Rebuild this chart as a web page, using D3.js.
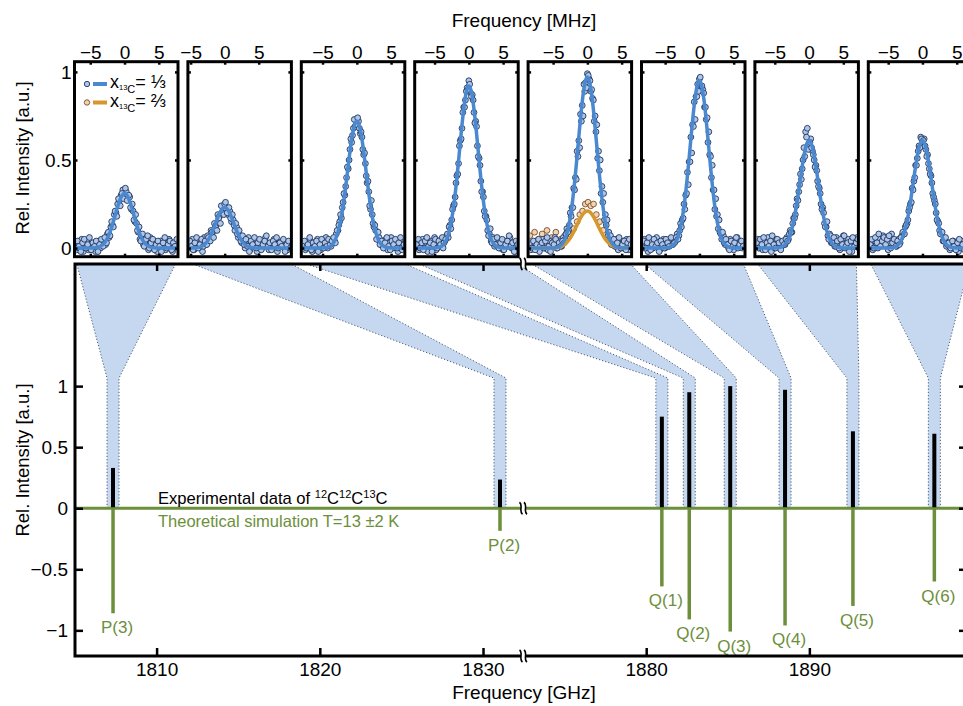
<!DOCTYPE html>
<html>
<head>
<meta charset="utf-8">
<title>12C12C13C spectrum</title>
<script src="https://cdn.jsdelivr.net/npm/d3@7"></script>
<style>
  body { margin: 0; background: #fff; }
  svg { font-family: "Liberation Sans", Arial, sans-serif; }
</style>
</head>
<body>
<div id="chart"></div>
<script>
// ---- data ----
// transitions (bottom panel)
const lineLabels   = ["P(3)", "P(2)", "Q(1)", "Q(2)", "Q(3)", "Q(4)", "Q(5)", "Q(6)"];
const lineFreqGHz  = [1807.33, 1831.04, 1880.96, 1882.64, 1885.15, 1888.51, 1892.67, 1897.66];
const expIntensity = [0.33, 0.235, 0.75, 0.95, 1.0, 0.97, 0.63, 0.61];
const simIntensity = [-0.86, -0.185, -0.64, -0.91, -1.01, -0.96, -0.80, -0.60];

const gTicks = [1810, 1820, 1830, 1880, 1890];
const intTicksBottom = [-1, -0.5, 0, 0.5, 1];
const mhzTicks = [-5, 0, 5];
const intTicksInset = [0, 0.5, 1];

// insets: MHz window of every scan
const insetRangeMHz = [[-7.3, 7.8], [-5.4, 9.8], [-8.1, 7.0], [-7.9, 7.2],
                       [-8.65, 6.45], [-8.45, 6.65], [-7.9, 7.2], [-7.9, 7.2]];
const scanStartMHz = [-7.25, -5.25, -7.75, -7.75, -8.5, -8.5, -7.75, -7.75];
const scanStepMHz = 0.25;
// first sweep, starts at scanStartMHz
const scanValues = [
  [0.02,-0.01,0.03,0.00,0.05,-0.02,0.01,0.04,-0.01,0.02,0.00,0.03,-0.02,0.01,0.04,0.00,0.02,
   0.05,0.02,0.08,0.06,0.12,0.13,0.19,0.20,0.25,0.27,0.30,0.33,0.29,0.32,0.28,0.29,0.22,0.21,0.15,0.14,0.09,0.05,0.07,0.02,0.04,
   0.01,-0.01,0.06,0.02,0.00,0.03,-0.02,0.01,0.04,0.00,0.02,-0.01,0.03,0.05,0.01,-0.02,0.02,0.00,0.03],
  [0.03,0.00,0.05,-0.01,0.02,0.04,0.01,0.03,-0.02,
   0.06,0.02,0.07,0.05,0.10,0.09,0.14,0.13,0.19,0.18,0.24,0.21,0.25,0.22,0.19,0.21,0.15,0.16,0.10,0.12,0.06,0.07,0.03,0.05,
   0.00,0.02,0.06,-0.01,0.03,0.01,0.05,-0.02,0.02,0.04,0.00,0.03,0.06,0.01,-0.01,0.03,0.00,0.05,0.02,-0.02,0.03,0.01,0.04,0.00,0.02,-0.01,0.03,0.01],
  [0.02,-0.01,0.03,0.01,0.04,-0.02,0.02,0.00,0.05,0.01,-0.01,0.03,0.02,0.06,0.00,
   0.03,0.01,0.05,0.04,0.08,0.10,0.15,0.17,0.26,0.30,0.40,0.45,0.56,0.60,0.68,0.69,0.70,0.72,0.65,0.63,0.53,0.48,0.37,0.32,0.22,0.19,0.12,0.10,0.05,0.06,
   0.02,0.04,0.01,0.05,-0.01,0.03,0.06,0.00,0.02,0.04,-0.02,0.01,0.03,0.05,0.00,0.02],
  [0.01,0.04,-0.01,0.02,0.05,0.00,0.03,-0.02,0.02,0.04,0.01,0.06,-0.01,0.03,0.02,
   0.05,0.00,0.04,0.07,0.06,0.13,0.16,0.24,0.29,0.41,0.48,0.61,0.68,0.80,0.84,0.91,0.95,0.88,0.87,0.77,0.72,0.58,0.51,0.38,0.32,0.21,0.18,0.10,0.08,0.04,0.06,
   0.01,0.03,0.05,0.00,0.02,-0.01,0.04,0.01,0.03,0.06,0.00,0.02,-0.02,0.03,0.01],
  [0.02,-0.01,0.03,0.00,0.04,0.01,-0.02,0.03,0.05,0.00,0.02,-0.01,0.04,0.01,0.03,0.06,0.00,0.02,
   0.04,0.01,0.06,0.05,0.11,0.10,0.20,0.23,0.34,0.40,0.55,0.61,0.76,0.81,0.93,0.94,0.99,0.96,0.89,0.85,0.72,0.66,0.51,0.44,0.31,0.26,0.16,0.13,0.07,0.06,0.02,0.04,
   0.01,0.05,-0.01,0.03,0.00,0.04,0.02,0.05,-0.01,0.03,0.01],
  [0.03,0.00,0.05,0.01,-0.02,0.02,0.04,0.00,0.03,0.06,0.01,-0.01,0.02,0.05,0.00,0.03,0.01,0.04,
   0.02,0.05,0.04,0.08,0.07,0.14,0.16,0.25,0.30,0.43,0.49,0.63,0.70,0.83,0.86,0.93,0.96,0.91,0.90,0.80,0.73,0.60,0.53,0.40,0.33,0.22,0.18,0.11,0.09,0.05,0.07,0.02,0.04,
   0.00,0.05,0.02,-0.01,0.03,0.06,0.01,0.03,0.00,0.02],
  [0.02,0.05,0.00,0.03,-0.01,0.04,0.01,0.06,0.02,-0.02,0.03,0.00,0.05,0.02,0.04,0.01,
   0.03,0.02,0.06,0.05,0.10,0.09,0.17,0.19,0.28,0.32,0.42,0.45,0.57,0.66,0.68,0.58,0.62,0.55,0.50,0.47,0.38,0.34,0.25,0.23,0.14,0.12,0.07,0.08,0.03,0.05,
   0.01,0.06,0.02,-0.01,0.04,0.07,0.00,0.03,0.05,0.01,-0.02,0.04,0.02,0.06,0.00],
  [0.01,0.03,-0.01,0.04,0.02,0.00,0.05,0.03,0.07,0.02,0.06,-0.01,0.03,0.08,0.02,0.04,
   0.01,0.05,0.03,0.07,0.08,0.12,0.14,0.21,0.25,0.34,0.38,0.47,0.51,0.58,0.63,0.60,0.62,0.56,0.53,0.45,0.41,0.31,0.27,0.20,0.15,0.10,0.08,0.04,0.05,
   0.01,0.03,-0.01,0.02,0.04,0.00,0.03,-0.02,0.01,0.04,0.02,0.00,0.03,0.01,-0.01,0.02]
];
// second sweep, shifted by half a step
const scanOffsetB = 0.125;
const scanValuesB = [
  [0.00,0.04,0.01,-0.02,0.03,0.05,0.00,0.02,0.06,-0.01,0.03,0.01,0.04,-0.02,0.02,0.05,
   0.01,0.06,0.03,0.09,0.07,0.15,0.12,0.21,0.18,0.28,0.24,0.31,0.28,0.34,0.27,0.30,0.23,0.25,0.16,0.19,0.10,0.12,0.04,0.08,0.01,0.05,
   0.07,0.00,0.03,0.05,-0.01,0.02,0.04,0.01,-0.02,0.03,0.06,0.00,0.02,0.04,-0.01,0.03,0.01,0.05],
  [0.04,0.01,-0.01,0.03,0.06,0.00,0.02,0.05,
   0.01,0.04,0.02,0.06,0.04,0.09,0.06,0.12,0.10,0.17,0.14,0.20,0.19,0.26,0.20,0.23,0.17,0.19,0.13,0.14,0.08,0.10,0.04,0.07,0.02,0.05,
   0.01,-0.02,0.04,0.02,0.06,0.00,0.03,0.05,-0.01,0.02,0.04,0.07,0.01,0.03,-0.01,0.04,0.02,0.06,0.00,0.03,0.01,0.05,-0.02,0.02,0.04,0.00],
  [0.04,0.00,0.02,0.06,-0.01,0.03,0.01,0.04,-0.02,0.02,0.05,0.00,0.03,0.01,0.05,0.02,
   0.04,0.06,0.03,0.10,0.13,0.19,0.23,0.31,0.35,0.46,0.50,0.62,0.64,0.73,0.70,0.74,0.68,0.66,0.56,0.54,0.41,0.38,0.24,0.27,0.14,0.13,0.05,0.09,0.02,0.04,
   0.00,0.03,0.06,0.01,-0.01,0.04,0.02,0.05,0.00,0.03,0.06,-0.01,0.02,0.04],
  [0.02,0.05,0.00,0.03,-0.01,0.04,0.06,0.01,0.03,-0.02,0.02,0.05,0.00,0.04,0.02,0.06,
   0.03,0.05,0.08,0.12,0.11,0.22,0.25,0.37,0.42,0.58,0.62,0.77,0.80,0.89,0.90,0.93,0.86,0.84,0.71,0.69,0.52,0.47,0.32,0.29,0.18,0.16,0.07,0.11,0.03,0.05,
   0.02,0.06,0.00,0.03,0.05,-0.01,0.02,0.04,0.07,0.01,0.03,-0.02,0.04,0.02],
  [0.03,0.00,0.04,-0.01,0.02,0.05,0.01,0.03,0.00,0.04,0.06,0.01,-0.02,0.03,0.02,0.05,0.00,0.03,0.01,
   0.04,0.03,0.08,0.09,0.13,0.18,0.23,0.33,0.39,0.52,0.57,0.72,0.75,0.89,0.91,0.98,0.95,0.90,0.84,0.75,0.70,0.55,0.50,0.35,0.31,0.19,0.16,0.09,0.07,0.03,
   0.05,0.01,0.03,0.06,0.00,0.02,0.04,-0.01,0.03,0.05,0.02],
  [0.01,0.04,0.00,0.03,0.06,-0.01,0.02,0.05,0.01,0.03,-0.02,0.04,0.02,0.00,0.05,0.03,0.01,0.06,0.02,
   0.03,0.06,0.05,0.10,0.12,0.17,0.22,0.31,0.36,0.49,0.54,0.69,0.73,0.86,0.89,0.97,0.92,0.88,0.80,0.74,0.66,0.52,0.47,0.33,0.28,0.19,0.16,0.08,0.09,0.03,
   0.05,0.02,-0.01,0.04,0.01,0.03,0.06,0.00,0.02,0.04,0.01],
  [0.03,0.00,0.05,0.02,0.06,-0.01,0.03,0.01,0.04,0.07,0.02,0.00,0.05,0.03,-0.01,0.04,
   0.02,0.05,0.04,0.08,0.09,0.14,0.17,0.24,0.27,0.36,0.39,0.50,0.52,0.63,0.56,0.60,0.57,0.53,0.46,0.44,0.35,0.31,0.22,0.20,0.12,0.15,0.05,0.07,0.03,0.06,
   0.01,0.04,0.00,0.05,0.02,0.07,0.01,0.03,-0.02,0.04,0.06,0.01,0.03,0.05],
  [0.02,0.05,0.00,0.06,0.03,0.08,0.01,0.04,0.06,0.02,0.05,0.07,0.00,0.03,0.05,0.01,
   0.04,0.02,0.06,0.09,0.08,0.13,0.16,0.23,0.26,0.33,0.40,0.47,0.55,0.57,0.62,0.61,0.58,0.52,0.48,0.42,0.37,0.29,0.25,0.16,0.14,0.08,0.09,0.04,0.06,0.02,
   0.03,0.00,0.04,0.01,-0.01,0.03,0.05,0.00,0.02,-0.01,0.04,0.01,0.03,0.00]
];
// gaussian fits (x13C = 1/3)
const fitAmp = [0.31, 0.23, 0.72, 0.92, 0.97, 0.95, 0.61, 0.61];
const fitSigmaMHz = 1.35;

// x13C = 2/3 scan, only for Q(3) (inset 5)
const enrichedPanel = 4;
const enrichedMHz = [-8.4, -7.7, -7.1, -6.6, -5.9, -5.2, -4.6, -3.9, -3.3, -2.6, -2.0, -1.5,
                     -1.1, -0.7, -0.3, 0.1, 0.5, 0.9, 1.3, 1.8, 2.3, 2.9, 3.4];
const enrichedValues = [0.07, 0.09, 0.05, 0.08, 0.10, 0.06, 0.09, 0.05, 0.07, 0.08, 0.11, 0.15,
                        0.19, 0.21, 0.25, 0.26, 0.24, 0.25, 0.19, 0.15, 0.10, 0.06, 0.04];
const enrichedAmp = 0.21;
const enrichedSigmaMHz = 1.55;

// ---- colours ----
const blueLine = "#4a89cf", blueFill = "#aec6e7", blueEdge = "#1f3461";
const orangeLine = "#d6982c", orangeFill = "#f1d3b3", orangeEdge = "#7a4e2a";
const green = "#6c8f3b", bandFill = "#c6d8f0", dotColor = "#4c5b78";

const W = 963, H = 706;
const svg = d3.select("#chart").append("svg").attr("width", W).attr("height", H);

// ---- bottom panel scales ----
const bLeft = 75, bRight = 966, bTop = 264, bBottom = 656, xBreak = 523;
const x = d3.scaleLinear()
  .domain([1805, 1832.45, 1872.45, 1899.6])
  .range([bLeft, xBreak, xBreak, bRight]);
const y = d3.scaleLinear().domain([-1.21, 2]).range([bBottom, bTop]);

// ---- inset layout ----
const iTop = 61.7, iBottom = 256.7, iWidth = 103.5, iStep = 113.4, iLeft0 = 74.5;
const yi = d3.scaleLinear().domain([-0.049, 1.058]).range([iBottom, iTop]);
const insetX = insetRangeMHz.map((r, i) =>
  d3.scaleLinear().domain(r).range([iLeft0 + i * iStep, iLeft0 + i * iStep + iWidth]));

// ---- fans connecting insets and lines ----
const half = 6, knee = y(1.066);
const fans = svg.append("g");
lineFreqGHz.forEach((f, i) => {
  const xc = x(f), x0 = iLeft0 + i * iStep + 2, x1 = iLeft0 + i * iStep + iWidth - 2;
  const pts = [[xc - half, y(0)], [xc - half, knee], [x0, bTop - 1], [x1, bTop - 1], [xc + half, knee], [xc + half, y(0)]];
  fans.append("path").attr("d", d3.line()(pts) + "Z").attr("fill", bandFill);
  [[pts[0], pts[1], pts[2]], [pts[5], pts[4], pts[3]]].forEach(p => {
    fans.append("path").attr("d", d3.line()(p)).attr("fill", "none")
      .attr("stroke", dotColor).attr("stroke-width", 1).attr("stroke-dasharray", "1.2,2");
  });
});

// ---- experimental / simulated lines ----
svg.append("line").attr("x1", bLeft).attr("x2", bRight).attr("y1", y(0)).attr("y2", y(0))
  .attr("stroke", green).attr("stroke-width", 3);
svg.append("g").selectAll("line").data(lineFreqGHz).join("line")
  .attr("x1", d => x(d)).attr("x2", d => x(d))
  .attr("y1", y(0)).attr("y2", (d, i) => y(simIntensity[i]))
  .attr("stroke", green).attr("stroke-width", 3.5);
svg.append("g").selectAll("line").data(lineFreqGHz).join("line")
  .attr("x1", d => x(d)).attr("x2", d => x(d))
  .attr("y1", y(0) - 1).attr("y2", (d, i) => y(expIntensity[i]))
  .attr("stroke", "#000").attr("stroke-width", 4);
svg.append("g").selectAll("text").data(lineLabels).join("text")
  .attr("x", (d, i) => x(lineFreqGHz[i]) + 4)
  .attr("y", (d, i) => y(simIntensity[i]) + 20)
  .attr("text-anchor", "middle").attr("font-size", 17).attr("fill", green)
  .text(d => d);

const t1 = svg.append("text").attr("x", 158).attr("y", 504).attr("font-size", 16.6).attr("fill", "#000");
t1.append("tspan").text("Experimental data of ");
[["12", "C"], ["12", "C"], ["13", "C"]].forEach(([m, e]) => {
  t1.append("tspan").attr("font-size", 11).attr("dy", -6).text(m);
  t1.append("tspan").attr("dy", 6).text(e);
});
svg.append("text").attr("x", 158).attr("y", 527).attr("font-size", 16.5).attr("fill", green)
  .text("Theoretical simulation T=13 \u00b12 K");

// ---- bottom frame and axes ----
const frame = svg.append("g").attr("stroke", "#000").attr("stroke-width", 3).attr("fill", "none");
frame.append("path").attr("d", `M${bRight},${bTop}H${bLeft}V${bBottom}H${bRight}`).attr("stroke-linecap", "square");

function styleAxis(g) {
  g.select(".domain").remove();
  g.selectAll(".tick line").attr("stroke", "#000").attr("stroke-width", 2.5);
  g.selectAll(".tick text").attr("fill", "#000");
}
const fmt = d3.format("~g");
svg.append("g").attr("transform", `translate(0,${bBottom})`)
  .call(d3.axisBottom(x).tickValues(gTicks).tickSize(-8).tickPadding(7).tickFormat(fmt))
  .call(styleAxis).attr("font-size", 19).attr("font-family", null);
svg.append("g").attr("transform", `translate(0,${bTop})`)
  .call(d3.axisTop(x).tickValues(gTicks).tickSize(-7).tickFormat(""))
  .call(styleAxis);
svg.append("g").attr("transform", `translate(${bLeft},0)`)
  .call(d3.axisLeft(y).tickValues(intTicksBottom).tickSize(-8).tickPadding(7).tickFormat(fmt))
  .call(styleAxis).attr("font-size", 19).attr("font-family", null);
svg.append("g").attr("transform", `translate(${bRight},0)`)
  .call(d3.axisRight(y).tickValues(intTicksBottom).tickSize(-7).tickFormat(""))
  .call(styleAxis);

// axis breaks
[bTop, y(0), bBottom].forEach(yy => {
  svg.append("rect").attr("x", xBreak - 2).attr("y", yy - 2.5).attr("width", 4.5).attr("height", 5).attr("fill", "#fff");
  [xBreak - 2, xBreak + 2.5].forEach(xo => {
    svg.append("path")
      .attr("d", `M${xo - 1.5},${yy - 6}C${xo + 2.5},${yy - 3} ${xo - 2.5},${yy + 3} ${xo + 1.5},${yy + 6}`)
      .attr("fill", "none").attr("stroke", "#000").attr("stroke-width", 1.6);
  });
});

// ---- insets ----
const defs = svg.append("defs");
const gauss = (a, s) => v => a * Math.exp(-v * v / (2 * s * s));
function scatter(plot, xs, pts, fill, edge) {
  plot.append("g").selectAll("circle").data(pts).join("circle")
    .attr("cx", d => xs(d[0])).attr("cy", d => yi(d[1])).attr("r", 2.9)
    .attr("fill", fill).attr("stroke", edge).attr("stroke-width", 0.9);
}

insetX.forEach((xs, i) => {
  const [l, r] = xs.range();
  const g = svg.append("g");
  defs.append("clipPath").attr("id", "clip" + i).append("rect")
    .attr("x", l + 1.5).attr("y", iTop + 1.5).attr("width", r - l - 3).attr("height", iBottom - iTop - 3);
  const plot = g.append("g").attr("clip-path", `url(#clip${i})`);
  const grid = d3.range(xs.domain()[0], xs.domain()[1] + 0.05, 0.05);

  if (i === enrichedPanel) {
    scatter(plot, xs, enrichedMHz.map((m, k) => [m, enrichedValues[k]]), orangeFill, orangeEdge);
  }
  const ptsA = scanValues[i].map((v, k) => [scanStartMHz[i] + k * scanStepMHz, v]);
  const ptsB = scanValuesB[i].map((v, k) => [scanStartMHz[i] + scanOffsetB + k * scanStepMHz, v]);
  scatter(plot, xs, ptsA.concat(ptsB), blueFill, blueEdge);

  if (i === enrichedPanel) {
    const fo = gauss(enrichedAmp, enrichedSigmaMHz);
    plot.append("path").attr("d", d3.line().x(v => xs(v)).y(v => yi(fo(v)))(grid))
      .attr("fill", "none").attr("stroke", orangeLine).attr("stroke-width", 3.5);
  }
  const fb = gauss(fitAmp[i], fitSigmaMHz);
  plot.append("path").attr("d", d3.line().x(v => xs(v)).y(v => yi(fb(v)))(grid))
    .attr("fill", "none").attr("stroke", blueLine).attr("stroke-width", 3.5);

  g.append("rect").attr("x", l).attr("y", iTop).attr("width", r - l).attr("height", iBottom - iTop)
    .attr("fill", "none").attr("stroke", "#000").attr("stroke-width", 3);

  g.append("g").attr("transform", `translate(0,${iTop})`)
    .call(d3.axisTop(xs).tickValues(mhzTicks).tickSize(-3).tickPadding(3).tickFormat(fmt))
    .call(styleAxis).attr("font-size", 19).attr("font-family", null);
  g.append("g").attr("transform", `translate(0,${iBottom})`)
    .call(d3.axisBottom(xs).tickValues(mhzTicks).tickSize(-3).tickFormat(""))
    .call(styleAxis);
  g.append("g").attr("transform", `translate(${l},0)`)
    .call(d3.axisLeft(yi).tickValues(intTicksInset).tickSize(-3).tickPadding(3).tickFormat(i === 0 ? fmt : ""))
    .call(styleAxis).attr("font-size", 19).attr("font-family", null);
  g.append("g").attr("transform", `translate(${r},0)`)
    .call(d3.axisRight(yi).tickValues(intTicksInset).tickSize(-3).tickFormat(""))
    .call(styleAxis);
});

// legend in first inset
const legend = svg.append("g");
[["\u2153", blueFill, blueEdge, blueLine], ["\u2154", orangeFill, orangeEdge, orangeLine]].forEach(([frac, fill, edge, lc], k) => {
  const yy = 84 + k * 18.5;
  legend.append("circle").attr("cx", 87).attr("cy", yy).attr("r", 2.7)
    .attr("fill", fill).attr("stroke", edge).attr("stroke-width", 0.9);
  legend.append("line").attr("x1", 93).attr("x2", 107).attr("y1", yy).attr("y2", yy)
    .attr("stroke", lc).attr("stroke-width", 4);
  const t = legend.append("text").attr("x", 110).attr("y", yy + 4).attr("font-size", 18);
  t.append("tspan").text("x");
  t.append("tspan").attr("font-size", 7.5).attr("dy", 2).text("13");
  t.append("tspan").attr("font-size", 11).attr("dy", 3).text("C");
  t.append("tspan").attr("dy", -5).text("= " + frac);
});

// ---- axis titles ----
svg.append("text").attr("x", 524).attr("y", 27).attr("text-anchor", "middle").attr("font-size", 19)
  .text("Frequency [MHz]");
svg.append("text").attr("x", 524).attr("y", 699).attr("text-anchor", "middle").attr("font-size", 19)
  .text("Frequency [GHz]");
svg.append("text").attr("transform", "translate(28.5,158) rotate(-90)").attr("text-anchor", "middle")
  .attr("font-size", 18.5).text("Rel. Intensity [a.u.]");
svg.append("text").attr("transform", "translate(28.5,460) rotate(-90)").attr("text-anchor", "middle")
  .attr("font-size", 18.5).text("Rel. Intensity [a.u.]");
</script>
</body>
</html>
